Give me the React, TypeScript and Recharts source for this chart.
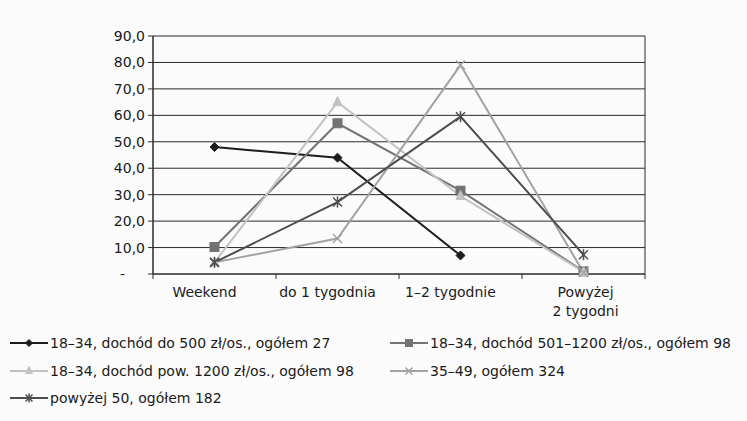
import React from 'react';
import { LineChart, Line, XAxis, YAxis, CartesianGrid } from 'recharts';

const categories = ['Weekend', 'do 1 tygodnia', '1–2 tygodnie', 'Powyżej 2 tygodni'];
const lowIncome = [48.0, 44.0, 7.0, null];
const midIncome = [10.2, 57.0, 31.5, 1.0];
const highIncome = [4.4, 65.0, 29.5, 0.8];
const age3549 = [4.4, 13.4, 79.0, 0.6];
const age50plus = [4.4, 27.2, 59.5, 7.3];
const yTicks = [0, 10, 20, 30, 40, 50, 60, 70, 80, 90];

const seriesNames = [
  '18–34, dochód do 500 zł/os., ogółem 27',
  '18–34, dochód 501–1200 zł/os., ogółem 98',
  '18–34, dochód pow. 1200 zł/os., ogółem 98',
  '35–49, ogółem 324',
  'powyżej 50, ogółem 182',
];

const data = categories.map((name, i) => ({
  name,
  s0: lowIncome[i],
  s1: midIncome[i],
  s2: highIncome[i],
  s3: age3549[i],
  s4: age50plus[i],
}));

const FONT = '"DejaVu Sans", Verdana, sans-serif';
const W = 747;
const H = 330;
const M = { top: 36, right: 102, left: 0, bottom: 0 };
const Y_W = 153;
const X_H = 56;
const PLOT_L = M.left + Y_W;
const PLOT_R = W - M.right;
const BAND = (PLOT_R - PLOT_L) / categories.length;

type Shape = 'diamond' | 'square' | 'triangle' | 'x' | 'star';

const Marker = ({ shape, cx, cy, color, s = 4.5 }: { shape: Shape; cx: number; cy: number; color: string; s?: number }) => {
  if (shape === 'diamond')
    return <polygon points={`${cx},${cy - s} ${cx + s},${cy} ${cx},${cy + s} ${cx - s},${cy}`} fill={color} stroke={color} />;
  if (shape === 'square')
    return <rect x={cx - s} y={cy - s} width={s * 2} height={s * 2} fill={color} stroke={color} />;
  if (shape === 'triangle')
    return <polygon points={`${cx},${cy - s - 1} ${cx + s},${cy + s - 1} ${cx - s},${cy + s - 1}`} fill={color} stroke={color} />;
  return (
    <g stroke={color} strokeWidth={1.5}>
      <line x1={cx - s} y1={cy - s} x2={cx + s} y2={cy + s} />
      <line x1={cx - s} y1={cy + s} x2={cx + s} y2={cy - s} />
      {shape === 'star' && <line x1={cx} y1={cy - s - 1} x2={cx} y2={cy + s + 1} />}
    </g>
  );
};

const makeDot = (shape: Shape, color: string) => (props: any) => {
  const { cx, cy, index } = props;
  if (cx == null || cy == null || props.value == null) return <g key={`d${index}`} />;
  return (
    <g key={`d${index}`}>
      <Marker shape={shape} cx={cx} cy={cy} color={color} />
    </g>
  );
};

const series: { key: string; color: string; shape: Shape }[] = [
  { key: 's0', color: '#1c1c1c', shape: 'diamond' },
  { key: 's1', color: '#737373', shape: 'square' },
  { key: 's2', color: '#c2c2c2', shape: 'triangle' },
  { key: 's3', color: '#a2a2a2', shape: 'x' },
  { key: 's4', color: '#4d4d4d', shape: 'star' },
];

const YTick = (props: any) => {
  const { x, y, payload } = props;
  if (payload.value === 0)
    return (
      <text x={x - 25} y={y} dy={5} fontSize={14} fontFamily={FONT} fill="#1a1a1a">
        -
      </text>
    );
  return (
    <text x={x} y={y} dy={5} textAnchor="end" fontSize={14} fontFamily={FONT} fill="#1a1a1a">
      {payload.value.toFixed(1).replace('.', ',')}
    </text>
  );
};

const XTick = (props: any) => {
  const { x, y, payload, index } = props;
  const label: string = payload.value;
  const lines = label.startsWith('Powyżej') ? ['Powyżej', '2 tygodni'] : [label];
  const axisY = y - 8;
  const dx = lines.length > 1 ? 2 : -10;
  return (
    <g>
      <line x1={x - BAND / 2} y1={axisY} x2={x - BAND / 2} y2={axisY + 5} stroke="#2a2a2a" />
      {index === categories.length - 1 && (
        <line x1={x + BAND / 2} y1={axisY} x2={x + BAND / 2} y2={axisY + 5} stroke="#2a2a2a" />
      )}
      <text x={x + dx} y={y} textAnchor="middle" fontSize={14} fontFamily={FONT} fill="#1a1a1a">
        {lines.map((l, i) => (
          <tspan key={i} x={x + dx} dy={i === 0 ? 15 : 19}>
            {l}
          </tspan>
        ))}
      </text>
    </g>
  );
};

const legendPos = [
  { left: 10, top: 343 },
  { left: 390, top: 343 },
  { left: 10, top: 371 },
  { left: 390, top: 371 },
  { left: 10, top: 398 },
];

const App: React.FC = () => {
  return (
    <div style={{ position: 'absolute', left: 0, top: 0, width: W, height: 421, background: '#fbfbfb', overflow: 'hidden', fontFamily: FONT }}>
      <LineChart width={W} height={H} data={data} margin={M}>
        <CartesianGrid vertical={true} verticalPoints={[PLOT_L, PLOT_R]} stroke="#2a2a2a" strokeWidth={1} />
        <XAxis
          dataKey="name"
          scale="band"
          height={X_H}
          tick={<XTick />}
          tickLine={false}
          axisLine={{ stroke: '#2a2a2a' }}
          tickSize={6}
          interval={0}
        />
        <YAxis
          domain={[0, 90]}
          ticks={yTicks}
          width={Y_W}
          tick={<YTick />}
          tickSize={5}
          tickMargin={3}
          tickLine={{ stroke: '#2a2a2a' }}
          axisLine={{ stroke: '#2a2a2a' }}
          interval={0}
        />
        {series.map((s) => (
          <Line
            key={s.key}
            dataKey={s.key}
            stroke={s.color}
            strokeWidth={2}
            type="linear"
            dot={makeDot(s.shape, s.color)}
            activeDot={false}
            isAnimationActive={false}
          />
        ))}
      </LineChart>
      {series.map((s, i) => (
        <div
          key={s.key}
          style={{ position: 'absolute', left: legendPos[i].left, top: legendPos[i].top - 9, height: 18, display: 'flex', alignItems: 'center', whiteSpace: 'nowrap' }}
        >
          <svg width={38} height={18}>
            <line x1={0} y1={9} x2={38} y2={9} stroke={s.color} strokeWidth={1.8} />
            <Marker shape={s.shape} cx={19} cy={9} color={s.color} s={3.5} />
          </svg>
          <span style={{ fontSize: 14, color: '#1a1a1a', marginLeft: 2 }}>{seriesNames[i]}</span>
        </div>
      ))}
    </div>
  );
};

export default App;
